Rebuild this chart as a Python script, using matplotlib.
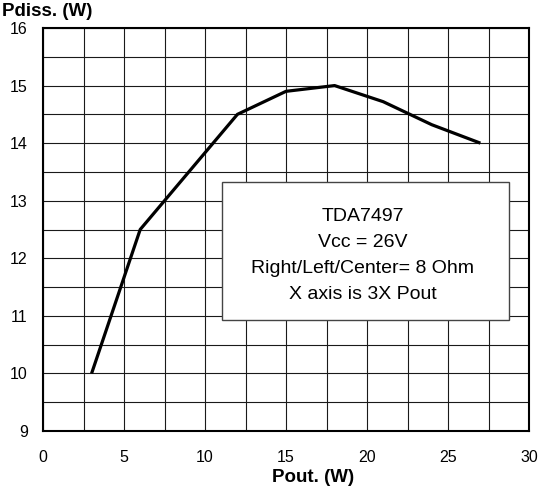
import matplotlib

matplotlib.use("Agg")
import matplotlib.pyplot as plt
import numpy as np

plt.rcParams["font.family"] = ["Liberation Sans", "DejaVu Sans"]

pout = [3, 6, 9, 12, 15, 18, 21, 24, 27]
pdiss = [10.0, 12.5, 13.5, 14.5, 14.9, 15.0, 14.72, 14.32, 14.0]
x_ticks = [0, 5, 10, 15, 20, 25, 30]
y_ticks = [9, 10, 11, 12, 13, 14, 15, 16]
note_lines = ["TDA7497", "Vcc = 26V", "Right/Left/Center= 8 Ohm", "X axis is 3X Pout"]

fig = plt.figure(figsize=(5.4, 4.91), dpi=100)
ax = fig.add_axes([43 / 540, 1 - 431 / 491, (529 - 43) / 540, (431 - 28) / 491])

ax.set_xlim(0, 30)
ax.set_ylim(9, 16)
ax.set_xticks(x_ticks)
ax.set_yticks(y_ticks)
ax.set_xticks(np.arange(0, 30.01, 2.5), minor=True)
ax.set_yticks(np.arange(9, 16.01, 0.5), minor=True)
ax.grid(True, which="both", color="#1a1a1a", linewidth=0.8)
ax.tick_params(which="both", length=0, labelsize=11.5, pad=14)
ax.tick_params(axis="y", pad=11)
for spine in ax.spines.values():
    spine.set_linewidth(1.5)

ax.plot(pout, pdiss, color="black", linewidth=2.3, solid_capstyle="butt", zorder=3)

box = plt.Rectangle((11.05, 10.93), 28.77 - 11.05, 13.33 - 10.93, facecolor="white",
                    edgecolor="#444444", linewidth=1.0, zorder=4)
ax.add_patch(box)
ax.text(19.75, 12.05, "\n".join(note_lines), ha="center",
        va="center", fontsize=14, linespacing=1.68, zorder=5)

fig.text(2 / 540, 1 - 12 / 491, "Pdiss. (W)", fontsize=13.5, fontweight="bold", va="center")
fig.text(313 / 540, 1 - 478 / 491, "Pout. (W)", fontsize=13.5, fontweight="bold",
         ha="center", va="center")

fig.savefig("out.png", dpi=100)
